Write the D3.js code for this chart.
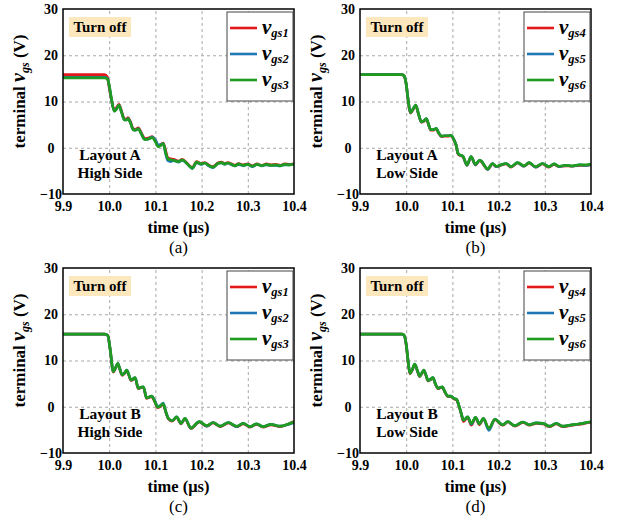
<!DOCTYPE html>
<html lang="en">
<head>
  <meta charset="UTF-8">
  <title>Terminal vgs turn off</title>
  <style>
    body { margin: 0; background: #fff; }
    svg { display: block; font-family: "Liberation Serif", "Times New Roman", serif; }
    .tick text { font-weight: bold; font-size: 14px; fill: #000; }
  </style>
</head>
<body>
  <div id="chart"></div>
  <script src="https://d3js.org/d3.v7.min.js"></script>
  <script>
    // axis ticks
    const xTicks = [9.9, 10.0, 10.1, 10.2, 10.3, 10.4];
    const yTicks = [-10, 0, 10, 20, 30];

    // (a) Layout A, high side
    const timeA = [9.90, 9.99, 9.996, 10.000, 10.005, 10.011, 10.016, 10.021, 10.027, 10.033,
      10.037, 10.041, 10.046, 10.052, 10.057, 10.063, 10.070, 10.077, 10.085, 10.093,
      10.100, 10.106, 10.112, 10.117, 10.122, 10.127, 10.133, 10.139, 10.145, 10.150,
      10.158, 10.168, 10.175, 10.180, 10.189, 10.199, 10.207, 10.215, 10.225, 10.235,
      10.243, 10.250, 10.257, 10.265, 10.272, 10.280, 10.290, 10.300, 10.310, 10.320,
      10.330, 10.340, 10.350, 10.360, 10.370, 10.380, 10.390, 10.400];
    const vgs1A = [15.8, 15.8, 15.3, 13.0, 10.3, 8.1, 8.7, 9.4, 7.8, 6.2,
      6.2, 6.5, 5.6, 4.1, 4.0, 4.3, 3.1, 2.0, 2.1, 2.4,
      1.5, 0.4, 0.7, 1.0, -0.6, -2.2, -2.4, -2.5, -2.7, -2.9,
      -2.5, -3.3, -4.0, -4.3, -3.0, -3.4, -3.2, -3.7, -4.1, -3.3,
      -3.1, -3.4, -3.2, -3.5, -3.8, -3.4, -3.7, -3.5, -3.9, -3.5,
      -3.8, -3.5, -3.7, -3.6, -3.8, -3.5, -3.6, -3.4];
    const vgs2A = [15.2, 15.2, 15.0, 13.4, 10.4, 7.9, 8.4, 9.2, 7.6, 6.0,
      6.0, 6.3, 5.4, 3.9, 3.8, 4.1, 2.9, 1.8, 1.9, 2.3,
      1.7, 0.6, 0.7, 0.9, -1.2, -2.8, -3.0, -2.8, -2.9, -3.1,
      -2.7, -3.4, -4.1, -4.5, -3.2, -3.6, -3.3, -3.9, -4.3, -3.4,
      -3.3, -3.6, -3.3, -3.7, -3.9, -3.6, -3.9, -3.6, -4.1, -3.6,
      -3.9, -3.7, -3.8, -3.8, -3.9, -3.7, -3.7, -3.5];
    const vgs3A = [15.1, 15.1, 14.9, 13.5, 10.5, 7.9, 8.4, 9.2, 7.6, 6.0,
      6.0, 6.3, 5.4, 3.9, 3.8, 4.1, 2.9, 1.8, 1.9, 2.2,
      1.3, 0.2, 0.5, 0.9, -1.0, -2.4, -2.6, -2.7, -2.9, -3.0,
      -2.6, -3.4, -4.1, -4.4, -3.1, -3.5, -3.3, -3.8, -4.2, -3.4,
      -3.2, -3.5, -3.3, -3.6, -3.9, -3.5, -3.8, -3.6, -4.0, -3.6,
      -3.9, -3.6, -3.8, -3.7, -3.9, -3.6, -3.7, -3.5];

    // (b) Layout A, low side
    const timeB = [9.90, 9.99, 9.995, 10.000, 10.004, 10.009, 10.015, 10.0205, 10.027, 10.033,
      10.038, 10.0435, 10.048, 10.053, 10.059, 10.065, 10.070, 10.076, 10.083, 10.090,
      10.0975, 10.103, 10.108, 10.112, 10.117, 10.1225, 10.1315, 10.1405, 10.150, 10.1585,
      10.163, 10.169, 10.176, 10.187, 10.195, 10.205, 10.216, 10.227, 10.241, 10.255,
      10.266, 10.280, 10.295, 10.309, 10.320, 10.331, 10.345, 10.360, 10.375, 10.390,
      10.400];
    const vgs4B = [15.8, 15.8, 15.6, 13.7, 10.4, 7.5, 8.3, 9.1, 7.1, 5.5,
      5.7, 6.2, 5.1, 3.8, 3.8, 4.1, 3.2, 2.4, 2.5, 2.5,
      2.6, 1.7, 0.5, -1.3, -1.7, -1.9, -3.8, -2.0, -3.7, -2.8,
      -3.0, -3.9, -4.7, -3.5, -4.1, -3.8, -3.5, -4.2, -3.3, -4.0,
      -3.3, -4.2, -3.5, -4.2, -3.6, -4.1, -3.9, -4.0, -3.8, -3.8,
      -3.7];
    const vgs5B = [15.8, 15.8, 15.6, 13.8, 10.5, 7.6, 8.4, 9.2, 7.2, 5.6,
      5.8, 6.3, 5.2, 3.9, 3.9, 4.2, 3.3, 2.5, 2.6, 2.6,
      2.7, 1.8, 0.6, -1.2, -1.6, -1.8, -3.8, -1.9, -3.7, -2.7,
      -2.9, -3.8, -4.7, -3.4, -4.1, -3.7, -3.4, -4.1, -3.2, -4.0,
      -3.2, -4.2, -3.4, -4.1, -3.5, -4.1, -3.8, -4.0, -3.7, -3.8,
      -3.6];
    const vgs6B = [15.8, 15.8, 15.6, 13.8, 10.5, 7.6, 8.4, 9.2, 7.2, 5.6,
      5.8, 6.3, 5.2, 3.9, 3.9, 4.2, 3.3, 2.5, 2.6, 2.6,
      2.7, 1.8, 0.6, -1.2, -1.6, -1.8, -3.7, -1.9, -3.6, -2.7,
      -2.9, -3.8, -4.6, -3.4, -4.0, -3.7, -3.4, -4.1, -3.2, -3.9,
      -3.2, -4.1, -3.4, -4.1, -3.5, -4.0, -3.8, -3.9, -3.7, -3.7,
      -3.6];

    // (c) Layout B, high side
    const timeC = [9.90, 9.99, 9.997, 10.002, 10.009, 10.0135, 10.0185, 10.023, 10.028, 10.033,
      10.038, 10.0425, 10.047, 10.0515, 10.056, 10.063, 10.068, 10.074, 10.081, 10.086,
      10.092, 10.098, 10.105, 10.111, 10.117, 10.122, 10.128, 10.1365, 10.146, 10.1555,
      10.164, 10.177, 10.195, 10.211, 10.225, 10.240, 10.258, 10.276, 10.290, 10.305,
      10.319, 10.333, 10.350, 10.370, 10.391, 10.400];
    const vgs1C = [15.7, 15.7, 15.4, 12.4, 7.5, 8.3, 9.3, 8.1, 6.8, 7.2,
      7.8, 6.8, 5.7, 5.9, 6.2, 3.9, 4.1, 4.2, 1.8, 2.0,
      2.2, 1.2, -0.2, 0.1, 0.5, -1.0, -2.6, -3.1, -2.3, -3.7,
      -2.6, -4.7, -3.3, -4.2, -3.5, -4.3, -3.5, -4.3, -3.7, -4.4,
      -3.8, -4.4, -3.9, -4.3, -3.6, -3.2];
    const vgs2C = [15.7, 15.7, 15.4, 12.5, 7.6, 8.4, 9.4, 8.2, 6.9, 7.3,
      7.9, 6.9, 5.8, 6.0, 6.3, 4.0, 4.2, 4.3, 1.9, 2.1,
      2.3, 1.5, 0.0, 0.3, 0.8, -0.9, -2.5, -3.0, -2.2, -3.6,
      -2.5, -4.6, -3.2, -4.2, -3.4, -4.2, -3.4, -4.3, -3.6, -4.3,
      -3.7, -4.3, -3.8, -4.2, -3.7, -3.4];
    const vgs3C = [15.7, 15.7, 15.4, 12.5, 7.6, 8.4, 9.4, 8.2, 6.9, 7.3,
      7.9, 6.9, 5.8, 6.0, 6.3, 4.0, 4.2, 4.3, 1.9, 2.1,
      2.3, 1.3, -0.1, 0.2, 0.6, -0.9, -2.5, -3.0, -2.2, -3.6,
      -2.5, -4.6, -3.2, -4.1, -3.4, -4.2, -3.4, -4.2, -3.6, -4.3,
      -3.7, -4.3, -3.8, -4.2, -3.6, -3.3];

    // (d) Layout B, low side
    const timeD = [9.90, 9.99, 9.995, 10.000, 10.004, 10.008, 10.013, 10.0185, 10.024, 10.029,
      10.034, 10.038, 10.043, 10.047, 10.052, 10.058, 10.063, 10.069, 10.074, 10.078,
      10.084, 10.090, 10.097, 10.103, 10.109, 10.114, 10.119, 10.124, 10.133, 10.141,
      10.150, 10.1585, 10.167, 10.179, 10.192, 10.2085, 10.220, 10.235, 10.2525, 10.267,
      10.2815, 10.296, 10.310, 10.325, 10.339, 10.353, 10.367, 10.382, 10.397, 10.400];
    const vgs4D = [15.7, 15.7, 15.5, 13.4, 9.9, 7.1, 7.9, 9.1, 7.8, 6.5,
      7.2, 7.85, 6.7, 5.6, 5.8, 6.2, 4.9, 3.9, 4.1, 4.2,
      3.1, 2.2, 2.2, 1.7, 1.5, 0.2, -1.5, -3.2, -2.3, -4.0,
      -2.4, -3.9, -2.6, -4.8, -2.8, -4.0, -3.3, -4.2, -3.4, -4.0,
      -3.6, -3.7, -4.3, -3.7, -4.3, -4.1, -3.9, -3.7, -3.4, -3.4];
    const vgs5D = [15.7, 15.7, 15.5, 13.5, 10.0, 7.3, 8.0, 9.2, 7.9, 6.6,
      7.3, 7.95, 6.8, 5.7, 5.9, 6.3, 5.0, 4.0, 4.2, 4.3,
      3.2, 2.3, 2.3, 1.8, 1.6, 0.3, -1.4, -2.9, -2.2, -3.8,
      -2.3, -3.7, -2.5, -5.1, -2.7, -3.9, -3.2, -4.1, -3.3, -3.9,
      -3.5, -3.6, -4.2, -3.6, -4.2, -4.0, -3.8, -3.6, -3.3, -3.3];
    const vgs6D = [15.7, 15.7, 15.5, 13.5, 10.0, 7.2, 8.0, 9.2, 7.9, 6.6,
      7.3, 7.95, 6.8, 5.7, 5.9, 6.3, 5.0, 4.0, 4.2, 4.3,
      3.2, 2.3, 2.3, 1.8, 1.6, 0.3, -1.4, -2.9, -2.2, -3.6,
      -2.3, -3.7, -2.5, -4.7, -2.7, -3.9, -3.2, -4.1, -3.3, -3.9,
      -3.5, -3.6, -4.2, -3.6, -4.2, -4.0, -3.8, -3.6, -3.3, -3.3];

    const colors = ["#e31a1c", "#1f78b4", "#1f9c1f"];

    const panels = [
      { left: 63, top: 9, time: timeA, series: [vgs1A, vgs2A, vgs3A], subs: ["gs1", "gs2", "gs3"],
        note: ["Layout A", "High Side"], tag: "(a)" },
      { left: 360, top: 9, time: timeB, series: [vgs4B, vgs5B, vgs6B], subs: ["gs4", "gs5", "gs6"],
        note: ["Layout A", "Low Side"], tag: "(b)" },
      { left: 63, top: 268, time: timeC, series: [vgs1C, vgs2C, vgs3C], subs: ["gs1", "gs2", "gs3"],
        note: ["Layout B", "High Side"], tag: "(c)" },
      { left: 360, top: 268, time: timeD, series: [vgs4D, vgs5D, vgs6D], subs: ["gs4", "gs5", "gs6"],
        note: ["Layout B", "Low Side"], tag: "(d)" }
    ];

    const W = 231, H = 185;

    const svg = d3.select("#chart")
      .append("svg")
      .attr("width", 624)
      .attr("height", 522)
      .style("background", "#fff");

    const x = d3.scaleLinear().domain([9.9, 10.4]).range([0, W]);
    const y = d3.scaleLinear().domain([-10, 30]).range([H, 0]);

    panels.forEach((p, i) => {
      const g = svg.append("g").attr("transform", `translate(${p.left},${p.top})`);

      // dashed grid
      g.append("g")
        .attr("transform", `translate(0,${H})`)
        .call(d3.axisBottom(x).tickValues(xTicks.slice(1, -1)).tickSize(-H).tickFormat(""))
        .call(a => a.select(".domain").remove())
        .call(a => a.selectAll("line").attr("stroke", "#a8a8a8").attr("stroke-dasharray", "3,3"));
      g.append("g")
        .call(d3.axisLeft(y).tickValues(yTicks.slice(1, -1)).tickSize(-W).tickFormat(""))
        .call(a => a.select(".domain").remove())
        .call(a => a.selectAll("line").attr("stroke", "#a8a8a8").attr("stroke-dasharray", "3,3"));

      // tick labels
      g.append("g")
        .attr("transform", `translate(0,${H})`)
        .call(d3.axisBottom(x).tickValues(xTicks).tickSize(0).tickPadding(7).tickFormat(d3.format(".1f")))
        .attr("font-family", null)
        .call(a => a.select(".domain").remove());
      g.append("g")
        .call(d3.axisLeft(y).tickValues(yTicks).tickSize(0).tickFormat(d3.format("d")))
        .attr("font-family", null)
        .call(a => a.select(".domain").remove())
        .call(a => a.selectAll("text").attr("text-anchor", "middle").attr("x", -12));

      // waveforms
      const clipId = "clip" + i;
      g.append("clipPath").attr("id", clipId)
        .append("rect").attr("width", W).attr("height", H);
      const line = d3.line()
        .x((d, k) => x(p.time[k]))
        .y(d => y(d))
        .curve(d3.curveMonotoneX);
      p.series.forEach((s, k) => {
        g.append("path")
          .datum(s)
          .attr("clip-path", `url(#${clipId})`)
          .attr("fill", "none")
          .attr("stroke", colors[k])
          .attr("stroke-width", 2.7)
          .attr("stroke-linejoin", "round")
          .attr("d", line);
      });

      // frame
      g.append("rect")
        .attr("width", W).attr("height", H)
        .attr("fill", "none").attr("stroke", "#000").attr("stroke-width", 1.5);

      // "Turn off" box
      g.append("rect")
        .attr("x", 6).attr("y", 8).attr("width", 62).attr("height", 20)
        .attr("fill", "#fde7bd");
      g.append("text")
        .attr("x", 37).attr("y", 23)
        .attr("text-anchor", "middle")
        .style("font-weight", "bold").style("font-size", "15px")
        .text("Turn off");

      // layout note
      p.note.forEach((t, k) => {
        g.append("text")
          .attr("x", 47).attr("y", 151 + k * 18)
          .attr("text-anchor", "middle")
          .style("font-weight", "bold").style("font-size", "15.5px")
          .text(t);
      });

      // legend
      const lg = g.append("g").attr("transform", `translate(${W - 67},3)`);
      lg.append("rect")
        .attr("width", 66).attr("height", 89)
        .attr("fill", "#fff").attr("stroke", "#444").attr("stroke-width", 1);
      p.subs.forEach((s, k) => {
        const yy = 16 + k * 26;
        lg.append("line")
          .attr("x1", 3).attr("x2", 30).attr("y1", yy).attr("y2", yy)
          .attr("stroke", colors[k]).attr("stroke-width", 2.6);
        const t = lg.append("text")
          .attr("x", 35).attr("y", yy + 6)
          .style("font-weight", "bold").style("font-style", "italic");
        t.append("tspan").style("font-size", "21px").text("v");
        t.append("tspan").attr("dy", 3).style("font-size", "12.5px").text(s);
      });

      // axis titles
      const yt = g.append("text")
        .attr("transform", `translate(-38,${H / 2 - 10}) rotate(-90)`)
        .attr("text-anchor", "middle")
        .style("font-weight", "bold").style("font-size", "17px");
      yt.append("tspan").text("terminal ");
      yt.append("tspan").style("font-style", "italic").style("font-size", "20px").text("v");
      yt.append("tspan").attr("dy", 4).style("font-style", "italic").style("font-size", "12px").text("gs");
      yt.append("tspan").attr("dy", -4).text(" (V)");

      g.append("text")
        .attr("x", W / 2).attr("y", H + 39)
        .attr("text-anchor", "middle")
        .style("font-weight", "bold").style("font-size", "16.5px")
        .text("time (\u03bcs)");

      g.append("text")
        .attr("x", W / 2).attr("y", H + 59)
        .attr("text-anchor", "middle")
        .style("font-size", "17px")
        .text(p.tag);
    });
  </script>
</body>
</html>
